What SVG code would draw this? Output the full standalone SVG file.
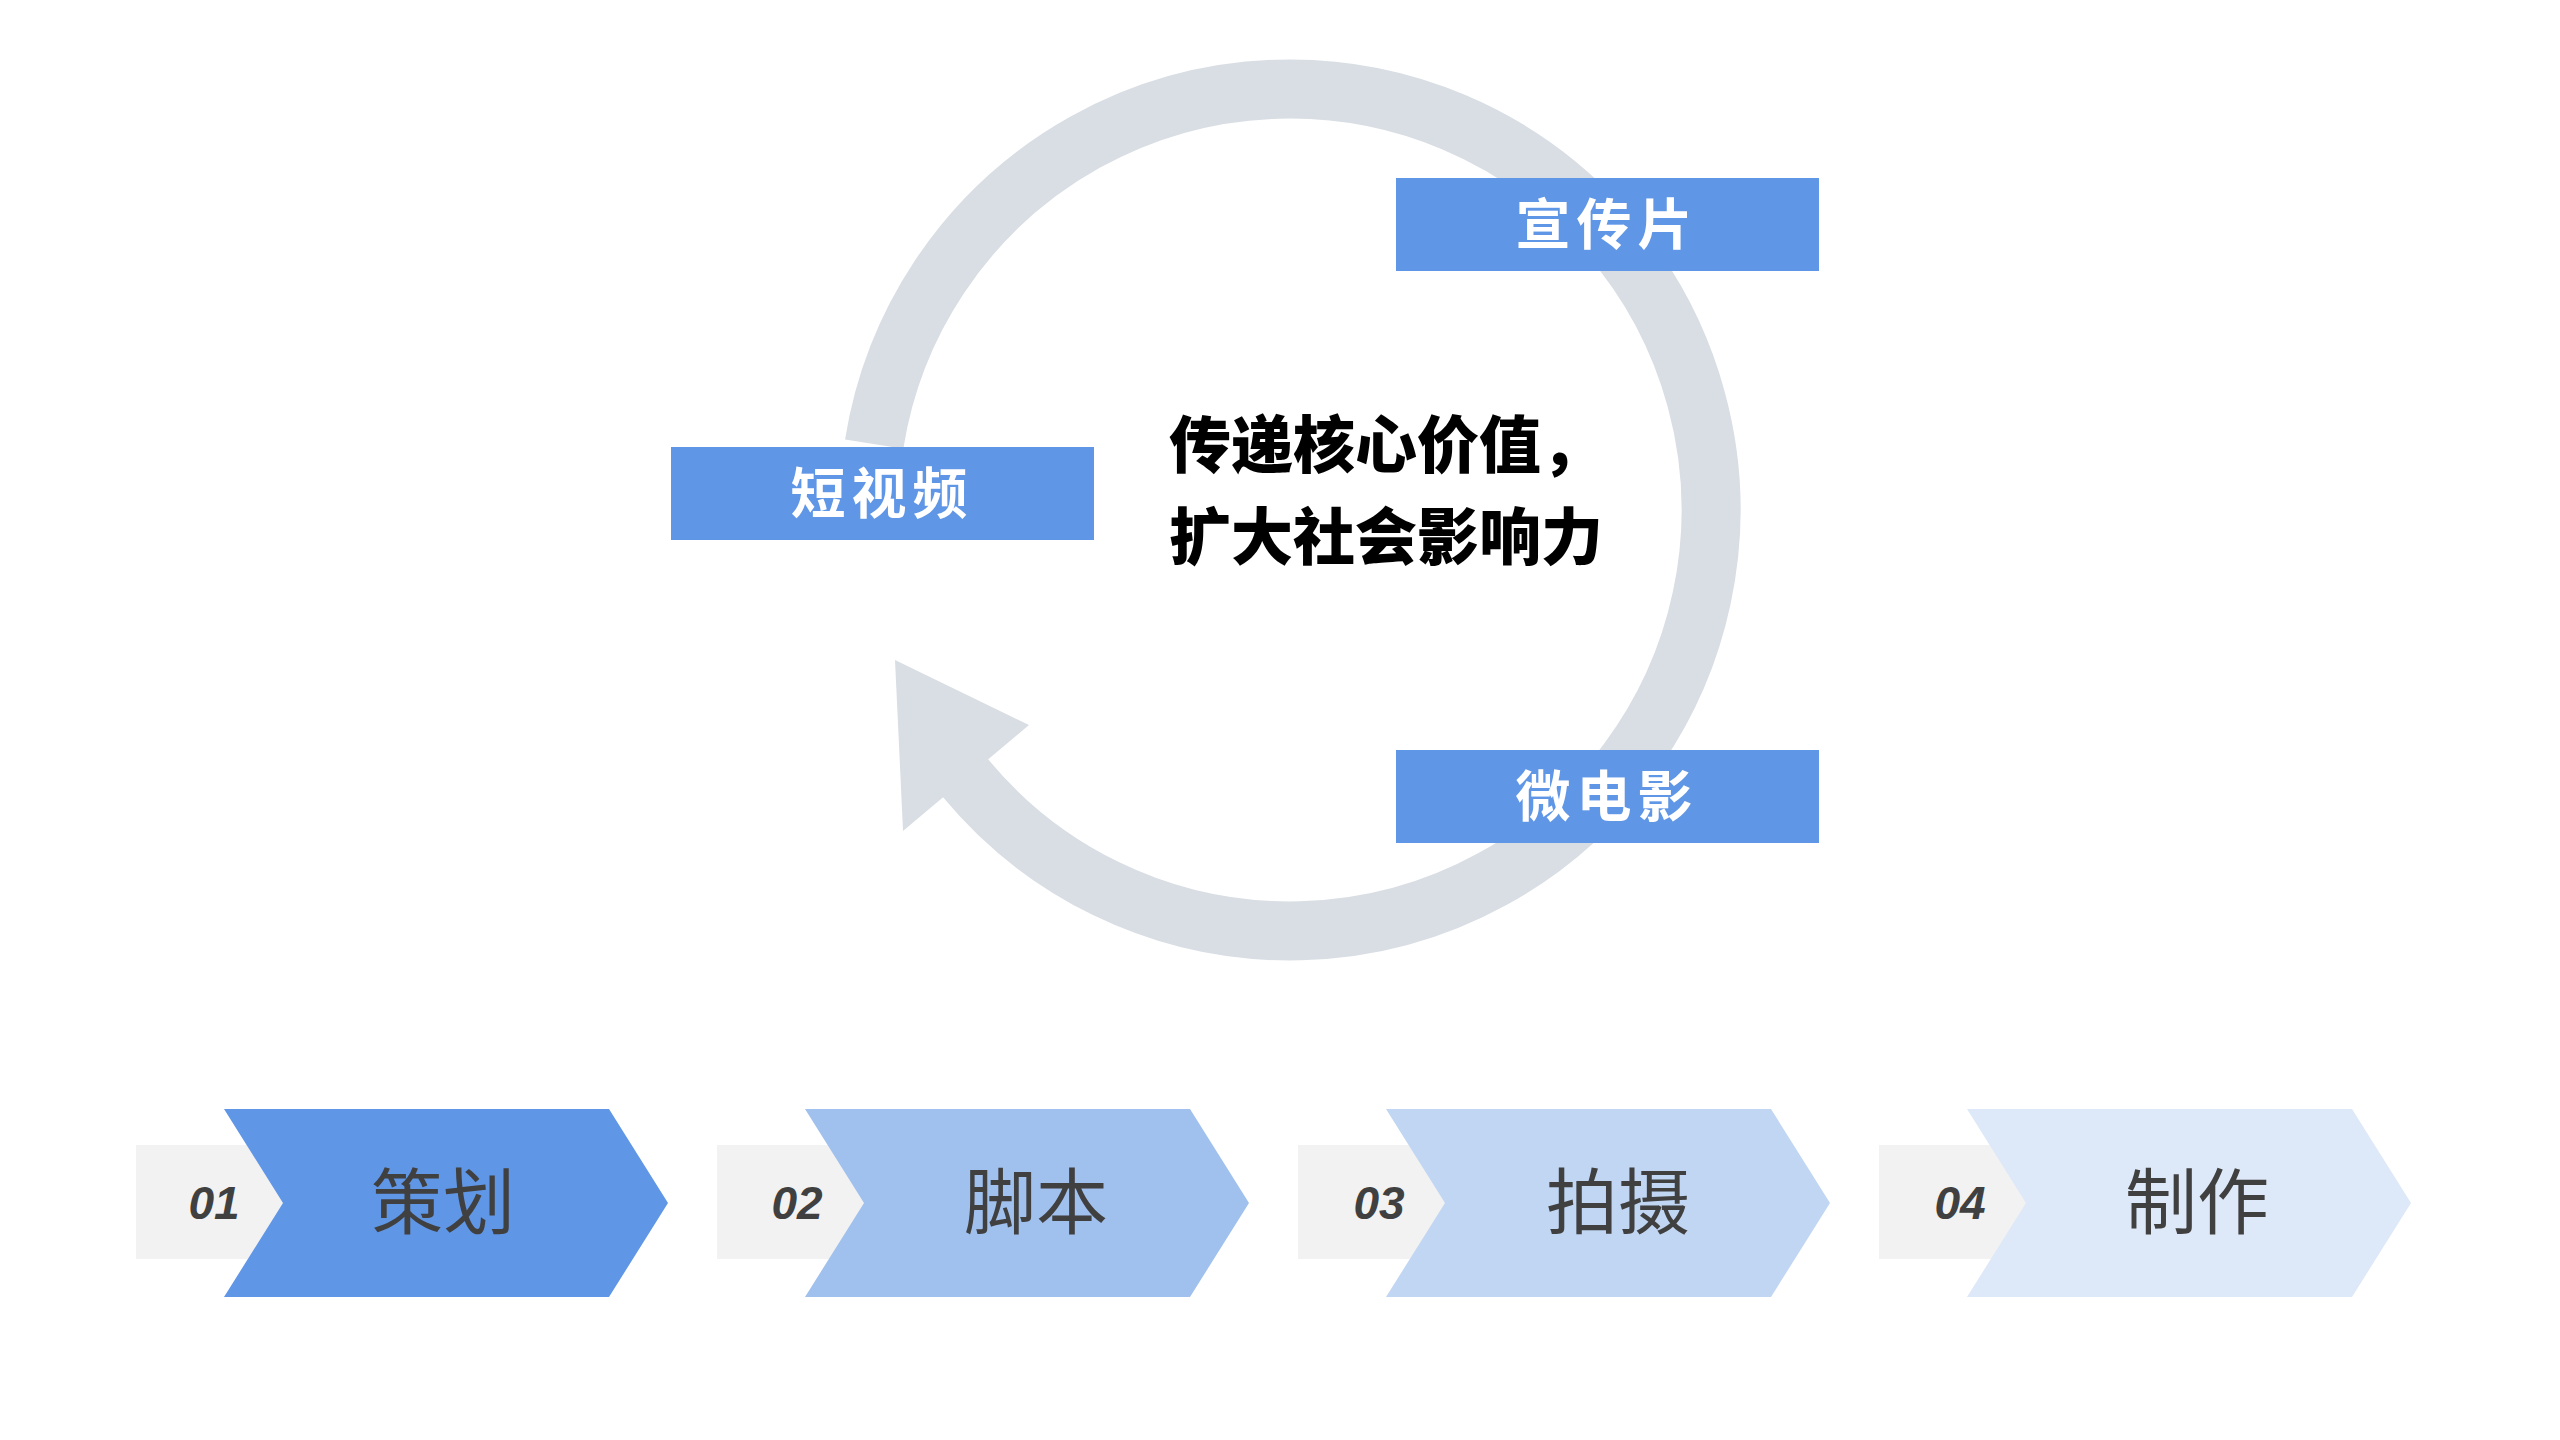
<svg xmlns="http://www.w3.org/2000/svg" width="2560" height="1440" viewBox="0 0 2560 1440">
<style>
.lbl{fill:#6096E6}
.lt{font-family:"Noto Sans CJK SC",sans-serif;font-weight:bold;font-size:55px;fill:#fff;text-anchor:middle;letter-spacing:6px}
.ct{font-family:"Noto Sans CJK SC",sans-serif;font-weight:900;font-size:62px;fill:#000}
.num{font-family:"Liberation Sans",sans-serif;font-weight:bold;font-style:italic;font-size:46px;fill:#404040;text-anchor:middle}
.st{font-family:"Noto Sans CJK SC",sans-serif;font-size:72px;fill:#404040;text-anchor:middle}
.gb{fill:#F2F2F2}
</style>
<rect width="2560" height="1440" fill="#fff"/>
<g id="connectors">
<path d="M965.2,777.8 A421,421 0 1 0 874.2,444.1" fill="none" stroke="#D9DEE4" stroke-width="59"/>
<polygon points="895,660 1029,725 903,831" fill="#D9DEE4"/>
</g>
<g id="center"><text class="ct" x="1169" y="468">传递核心价值，</text><text class="ct" x="1169" y="560">扩大社会影响力</text></g>
<g id="n-xcp"><rect class="lbl" x="1396" y="178" width="423" height="93"/><text class="lt" x="1607" y="244">宣传片</text></g>
<g id="n-dsp"><rect class="lbl" x="671" y="447" width="423" height="93"/><text class="lt" x="882" y="513">短视频</text></g>
<g id="n-wdy"><rect class="lbl" x="1396" y="750" width="423" height="93"/><text class="lt" x="1607" y="816">微电影</text></g>
<g id="s1"><rect class="gb" x="136" y="1145" width="150" height="114"/><polygon points="224,1109 609,1109 668,1203 609,1297 224,1297 283,1203" fill="#6096E6"/><text class="num" x="214" y="1219">01</text><text class="st" x="443" y="1228">策划</text></g>
<g id="s2"><rect class="gb" x="717" y="1145" width="150" height="114"/><polygon points="805,1109 1190,1109 1249,1203 1190,1297 805,1297 864,1203" fill="#A0C0EE"/><text class="num" x="797" y="1219">02</text><text class="st" x="1036" y="1228">脚本</text></g>
<g id="s3"><rect class="gb" x="1298" y="1145" width="150" height="114"/><polygon points="1386,1109 1771,1109 1830,1203 1771,1297 1386,1297 1445,1203" fill="#C0D6F3"/><text class="num" x="1379" y="1219">03</text><text class="st" x="1618" y="1228">拍摄</text></g>
<g id="s4"><rect class="gb" x="1879" y="1145" width="150" height="114"/><polygon points="1967,1109 2352,1109 2411,1203 2352,1297 1967,1297 2026,1203" fill="#DDE8F8"/><text class="num" x="1960" y="1219">04</text><text class="st" x="2197" y="1228">制作</text></g>
</svg>
